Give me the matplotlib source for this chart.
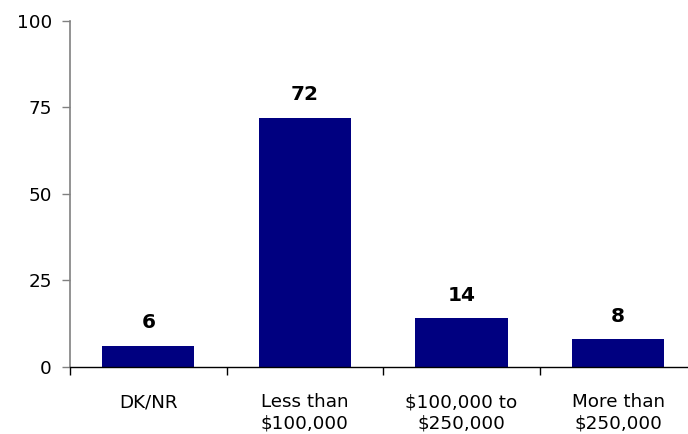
import matplotlib
matplotlib.use("Agg")
import matplotlib.pyplot as plt

categories = ["DK/NR", "Less than\n$100,000", "$100,000 to\n$250,000", "More than\n$250,000"]
values = [6, 72, 14, 8]
yticks = [0, 25, 50, 75, 100]

plt.rcParams['font.family'] = ['DejaVu Sans']

fig = plt.figure(figsize=(6.88, 4.34), dpi=100)
ax = fig.add_axes([70/688, 67/434, 626.4/688, 346.5/434])

x = list(range(len(categories)))
bars = ax.bar(x, values, width=0.59, color="#000080", zorder=2)

ax.set_xlim(-0.5, len(categories) - 0.5)
ax.set_ylim(0, 100)
ax.set_yticks(yticks)
ax.set_yticklabels([str(v) for v in yticks], fontsize=13.2)

# category labels centered, ticks at boundaries
ax.set_xticks(x)
ax.set_xticklabels(categories, fontsize=13.2, linespacing=1.25)
ax.tick_params(axis='x', which='major', length=0, pad=19)
ax.set_xticks([i - 0.5 for i in range(len(categories) + 1)], minor=True)
ax.tick_params(axis='x', which='minor', length=6, width=1, color='black', direction='out')
ax.xaxis.get_minor_ticks()[0].tick1line.set_color('#808080')

ax.tick_params(axis='y', length=6, width=1, color='#808080', pad=7, direction='out')

for s in ['top', 'right']:
    ax.spines[s].set_visible(False)
ax.spines['left'].set_color('#808080')
ax.spines['left'].set_linewidth(1.2)
ax.spines['bottom'].set_color('black')
ax.spines['bottom'].set_linewidth(1)

for xi, v in zip(x, values):
    ax.annotate(str(v), (xi, v), xytext=(0, 12.8), textcoords='offset points',
                ha='center', va='baseline', fontsize=14.5, fontweight='bold')

fig.savefig("out.png", dpi=100)
